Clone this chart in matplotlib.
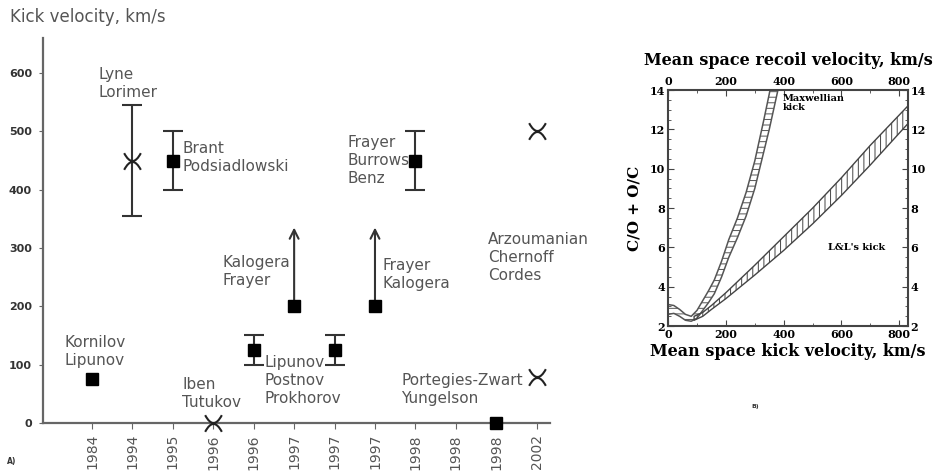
import numpy as np
import matplotlib.pyplot as plt
from matplotlib.path import Path

# ---- panel A data ----
years = ['1984', '1994', '1995', '1996', '1996', '1997', '1997', '1997',
         '1998', '1998', '1998', '2002']
sq_pos = [0, 2, 4, 5, 6, 7, 8, 10]
sq_val = [75, 450, 125, 200, 125, 200, 450, 0]
err_pos = [1, 2, 4, 6, 8]
err_lo = [355, 400, 100, 100, 400]
err_hi = [545, 500, 150, 150, 500]
err_mid = [450, 450, 125, 125, 450]
bow_pos = [1, 3, 11, 11]
bow_val = [450, 0, 500, 78]
arr_pos = [5, 7]
arr_from = [200, 200]
arr_to = [340, 340]
names = ['Lyne\nLorimer', 'Brant\nPodsiadlowski', 'Kornilov\nLipunov',
         'Iben\nTutukov', 'Lipunov\nPostnov\nProkhorov', 'Kalogera\nFrayer',
         'Frayer\nKalogera', 'Frayer\nBurrows\nBenz',
         'Arzoumanian\nChernoff\nCordes', 'Portegies-Zwart\nYungelson']
name_x = [0.15, 2.25, -0.69, 2.23, 4.26, 3.22, 7.18, 6.31, 9.8, 7.65]
name_y = [583, 456, 123, 50, 72, 259, 254, 451, 283, 57]

# ---- panel B data ----
max_x = [0, 20, 40, 60, 80, 100, 120, 140, 160, 185, 210, 240, 270, 300, 330, 350, 368, 380]
max_lo = [2.6, 2.65, 2.5, 2.3, 2.25, 2.4, 2.8, 3.2, 3.65, 4.5, 5.5, 6.5, 7.6, 9.0, 10.8, 12.0, 13.2, 14.0]
max_hi = [3.1, 3.05, 2.85, 2.6, 2.5, 2.8, 3.3, 3.8, 4.35, 5.3, 6.4, 7.5, 8.8, 10.4, 12.4, 13.8, 15.2, 16.0]
ll_x = [90, 120, 150, 200, 250, 300, 400, 500, 600, 700, 830]
ll_lo = [2.3, 2.5, 2.85, 3.4, 4.0, 4.6, 5.85, 7.2, 8.65, 10.2, 12.3]
ll_hi = [2.5, 2.7, 3.05, 3.7, 4.4, 5.1, 6.55, 8.0, 9.55, 11.2, 13.2]

gray = '#555555'
dark = '#333333'
plt.rcParams['hatch.linewidth'] = 0.7

# bow-tie marker: two arcs facing each other
bow = Path([(-1, 1), (0, -0.9), (1, 1), (-1, -1), (0, 0.9), (1, -1)],
           [Path.MOVETO, Path.CURVE3, Path.CURVE3, Path.MOVETO, Path.CURVE3, Path.CURVE3])

fig = plt.figure(figsize=(9.37, 4.72), dpi=100)

ax = fig.add_axes([0.046, 0.104, 0.541, 0.815])
for s in ['top', 'right']:
    ax.spines[s].set_visible(False)
for s in ['left', 'bottom']:
    ax.spines[s].set_color('#666666')
    ax.spines[s].set_linewidth(1.6)
ax.set_xlim(-1.21, 11.33)
ax.set_ylim(0, 660)
ax.set_yticks([0, 100, 200, 300, 400, 500, 600])
ax.set_yticklabels(['0', '100', '200', '300', '400', '500', '600'],
                   fontsize=8, fontweight='bold', color=dark)
ax.set_xticks(range(len(years)))
ax.set_xticklabels(years, rotation=90, fontsize=10, color=gray)
ax.tick_params(axis='y', length=3, color='#666666', pad=5)
ax.tick_params(axis='x', length=4, color='#666666', pad=4)

ax.errorbar(err_pos, err_mid,
            yerr=[np.subtract(err_mid, err_lo), np.subtract(err_hi, err_mid)],
            fmt='none', ecolor=dark, elinewidth=1.5, capsize=7, capthick=1.5)
for p, a, b in zip(arr_pos, arr_from, arr_to):
    ax.annotate('', xy=(p, b), xytext=(p, a),
                arrowprops=dict(arrowstyle='->', color=dark, lw=1.5,
                                mutation_scale=16))
ax.plot(sq_pos, sq_val, 's', color='black', markersize=9, clip_on=False, zorder=5)
ax.plot(bow_pos, bow_val, linestyle='none', marker=bow, markersize=12,
        markerfacecolor='none', markeredgecolor='#222222', markeredgewidth=1.5,
        clip_on=False, zorder=5)
for t, x, y in zip(names, name_x, name_y):
    ax.text(x, y, t, fontsize=11, color=gray, ha='left', va='center',
            linespacing=1.25)

fig.text(0.011, 0.964, 'Kick velocity, km/s', fontsize=12, color=gray,
         ha='left', va='center')
fig.text(0.007, 0.022, 'A)', fontsize=5.5, color=dark, fontweight='bold',
         ha='left', va='center')

# ---- panel B ----
bx = fig.add_axes([0.713, 0.309, 0.256, 0.500])
bx.fill_between(max_x, max_lo, max_hi, facecolor='none', edgecolor='#555555',
                hatch='---', linewidth=1.1)
bx.fill_between(ll_x, ll_lo, ll_hi, facecolor='none', edgecolor='#444444',
                hatch='|||', linewidth=1.0)
bx.set_xlim(0, 830)
bx.set_ylim(2, 14)
serif = 'DejaVu Serif'
bx.set_xticks([0, 200, 400, 600, 800])
bx.set_xticks([100, 300, 500, 700], minor=True)
bx.set_yticks([2, 4, 6, 8, 10, 12, 14])
bx.set_yticks(np.arange(2, 14.01, 0.5), minor=True)
bx.tick_params(which='both', direction='in', top=True, right=True,
               labeltop=True, labelright=True, color='#444444')
bx.tick_params(which='major', length=4, labelsize=8, pad=2)
bx.tick_params(which='minor', length=2.5)
for lab in bx.get_xticklabels() + bx.get_yticklabels():
    lab.set_fontfamily(serif)
    lab.set_fontweight('bold')
for s in bx.spines.values():
    s.set_linewidth(1.5)
    s.set_color('#444444')
bx.set_xlabel('Mean space kick velocity, km/s', fontfamily=serif,
              fontweight='bold', fontsize=11.5, labelpad=2)
bx.set_ylabel('C/O + O/C', fontfamily=serif, fontweight='bold', fontsize=11,
              labelpad=6)
bx.text(0.5, 1.09, 'Mean space recoil velocity, km/s', transform=bx.transAxes,
        fontfamily=serif, fontweight='bold', fontsize=11.5, ha='center',
        va='bottom')
bx.text(395, 13.8, 'Maxwellian\nkick', fontfamily=serif, fontweight='bold',
        fontsize=7, ha='left', va='top', linespacing=1.0)
bx.text(555, 6.0, "L&L's kick", fontfamily=serif, fontweight='bold',
        fontsize=7, ha='left', va='center')
fig.text(0.806, 0.138, 'B)', fontsize=4.5, fontweight='bold', color=dark,
         ha='center', va='center')

fig.savefig('out.png', dpi=100)
